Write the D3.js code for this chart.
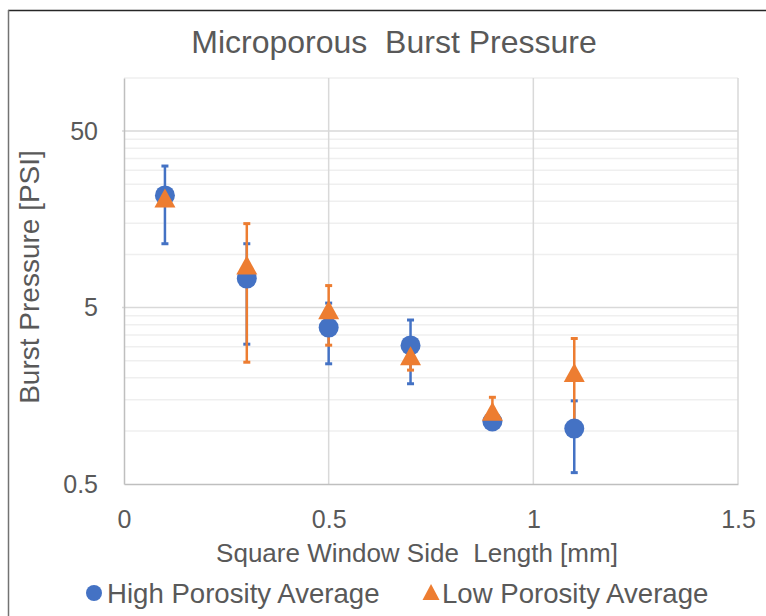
<!DOCTYPE html>
<html lang="en">
<head>
<meta charset="UTF-8">
<title>Microporous Burst Pressure</title>
<script src="https://d3js.org/d3.v7.min.js"></script>
<style>
  body { margin: 0; background: #fff; }
  svg text { font-family: "Liberation Sans", Arial, sans-serif; fill: #595959; }
</style>
</head>
<body>
<div id="chart"></div>
<script>
// window side length [mm]
const sideLength = [0.1, 0.3, 0.5, 0.7, 0.9, 1.1];
// burst pressure [PSI] and error bar size
const highAvg = [21.6, 7.3, 3.85, 3.05, 1.13, 1.03];
const highErr = [10.1, 4.2, 1.45, 1.2, 0.05, 0.45];
const lowAvg  = [20.9, 8.7, 4.86, 2.67, 1.29, 2.14];
const lowErr  = [1.0, 6.25, 1.8, 0.46, 0.26, 1.2];

const xTicks = [0, 0.5, 1, 1.5];
const xTickLabels = ["0", "0.5", "1", "1.5"];
const yTicks = [0.5, 5, 50];
const yTickLabels = ["0.5", "5", "50"];

const blue = "#4472c4", orange = "#ed7d31";
const W = 766, H = 616;
const plotL = 124, plotR = 738, plotT = 78, plotB = 484;

const svg = d3.select("#chart").append("svg")
    .attr("width", W).attr("height", H);

// outer frame (only top and left show in the picture)
svg.append("line").attr("x1", 8).attr("x2", W).attr("y1", 10.5).attr("y2", 10.5)
   .attr("stroke", "#262626").attr("stroke-width", 1.5);
svg.append("line").attr("x1", 8.5).attr("x2", 8.5).attr("y1", 10).attr("y2", H)
   .attr("stroke", "#737373").attr("stroke-width", 1.5);

const x = d3.scaleLinear().domain([0, 1.5]).range([plotL, plotR]);
const y = d3.scaleLog().domain([0.5, 100]).range([plotB, plotT]);

// minor grid: 2..9 times each decade start
const minor = [];
yTicks.forEach(b => { for (let k = 2; k <= 9; k++) if (b * k <= 100) minor.push(b * k); });

svg.append("g").selectAll("line").data(minor).join("line")
   .attr("x1", plotL).attr("x2", plotR)
   .attr("y1", d => y(d)).attr("y2", d => y(d))
   .attr("stroke", "#efefef").attr("stroke-width", 1.5);

svg.append("g").selectAll("line").data(yTicks.slice(1)).join("line")
   .attr("x1", plotL - 2).attr("x2", plotR)
   .attr("y1", d => y(d)).attr("y2", d => y(d))
   .attr("stroke", "#d9d9d9").attr("stroke-width", 1.5);

svg.append("g").selectAll("line").data(xTicks.slice(1)).join("line")
   .attr("x1", d => x(d)).attr("x2", d => x(d))
   .attr("y1", plotT).attr("y2", plotB)
   .attr("stroke", "#d9d9d9").attr("stroke-width", 1.5);

// axes
const xAxis = svg.append("g")
   .attr("transform", "translate(0," + plotB + ")")
   .call(d3.axisBottom(x).tickValues(xTicks).tickSize(0).tickPadding(26)
         .tickFormat((d, i) => xTickLabels[i]));
const yAxis = svg.append("g")
   .attr("transform", "translate(" + plotL + ",0)")
   .call(d3.axisLeft(y).tickValues(yTicks).tickSize(0).tickPadding(26)
         .tickFormat((d, i) => yTickLabels[i]));
[xAxis, yAxis].forEach(g => {
  g.select(".domain").attr("stroke", "#bfbfbf").attr("stroke-width", 1.5);
  g.selectAll("text").style("font-size", "25px").attr("fill", "#595959");
});

// error bars first (blue, then orange), markers after
function errorBars(vals, errs, color) {
  const g = svg.append("g").attr("stroke", color);
  sideLength.forEach((s, i) => {
    const cx = x(s), y1 = y(vals[i] + errs[i]), y2 = y(Math.max(vals[i] - errs[i], 0.5));
    g.append("line").attr("x1", cx).attr("x2", cx).attr("y1", y1).attr("y2", y2)
     .attr("stroke-width", 2.5);
    [y1, y2].forEach(yy => g.append("line")
      .attr("x1", cx - 3.5).attr("x2", cx + 3.5).attr("y1", yy).attr("y2", yy)
      .attr("stroke-width", 3));
  });
}
errorBars(highAvg, highErr, blue);
errorBars(lowAvg, lowErr, orange);

svg.append("g").selectAll("circle").data(highAvg).join("circle")
   .attr("cx", (d, i) => x(sideLength[i])).attr("cy", d => y(d))
   .attr("r", 10).attr("fill", blue);

const tri = (cx, cy, w, h) => `M${cx},${cy - h / 2}L${cx + w / 2},${cy + h / 2}L${cx - w / 2},${cy + h / 2}Z`;
svg.append("g").selectAll("path").data(lowAvg).join("path")
   .attr("d", (d, i) => tri(x(sideLength[i]), y(d), 21, 19))
   .attr("fill", orange);

// titles
svg.append("text").attr("x", 394).attr("y", 53).attr("text-anchor", "middle")
   .style("font-size", "32px").style("white-space", "pre")
   .text("Microporous  Burst Pressure");
svg.append("text").attr("x", 417).attr("y", 562).attr("text-anchor", "middle")
   .style("font-size", "26px").style("white-space", "pre")
   .text("Square Window Side  Length [mm]");
svg.append("text").attr("transform", "translate(39,277) rotate(-90)")
   .attr("text-anchor", "middle").style("font-size", "28px")
   .text("Burst Pressure [PSI]");

// legend
const lg = svg.append("g");
lg.append("circle").attr("cx", 94).attr("cy", 593).attr("r", 8).attr("fill", blue);
lg.append("text").attr("x", 107).attr("y", 603).style("font-size", "27.6px")
  .text("High Porosity Average");
lg.append("path").attr("d", tri(431, 592, 17, 16)).attr("fill", orange);
lg.append("text").attr("x", 442).attr("y", 603).style("font-size", "27.6px")
  .text("Low Porosity Average");
</script>
</body>
</html>
